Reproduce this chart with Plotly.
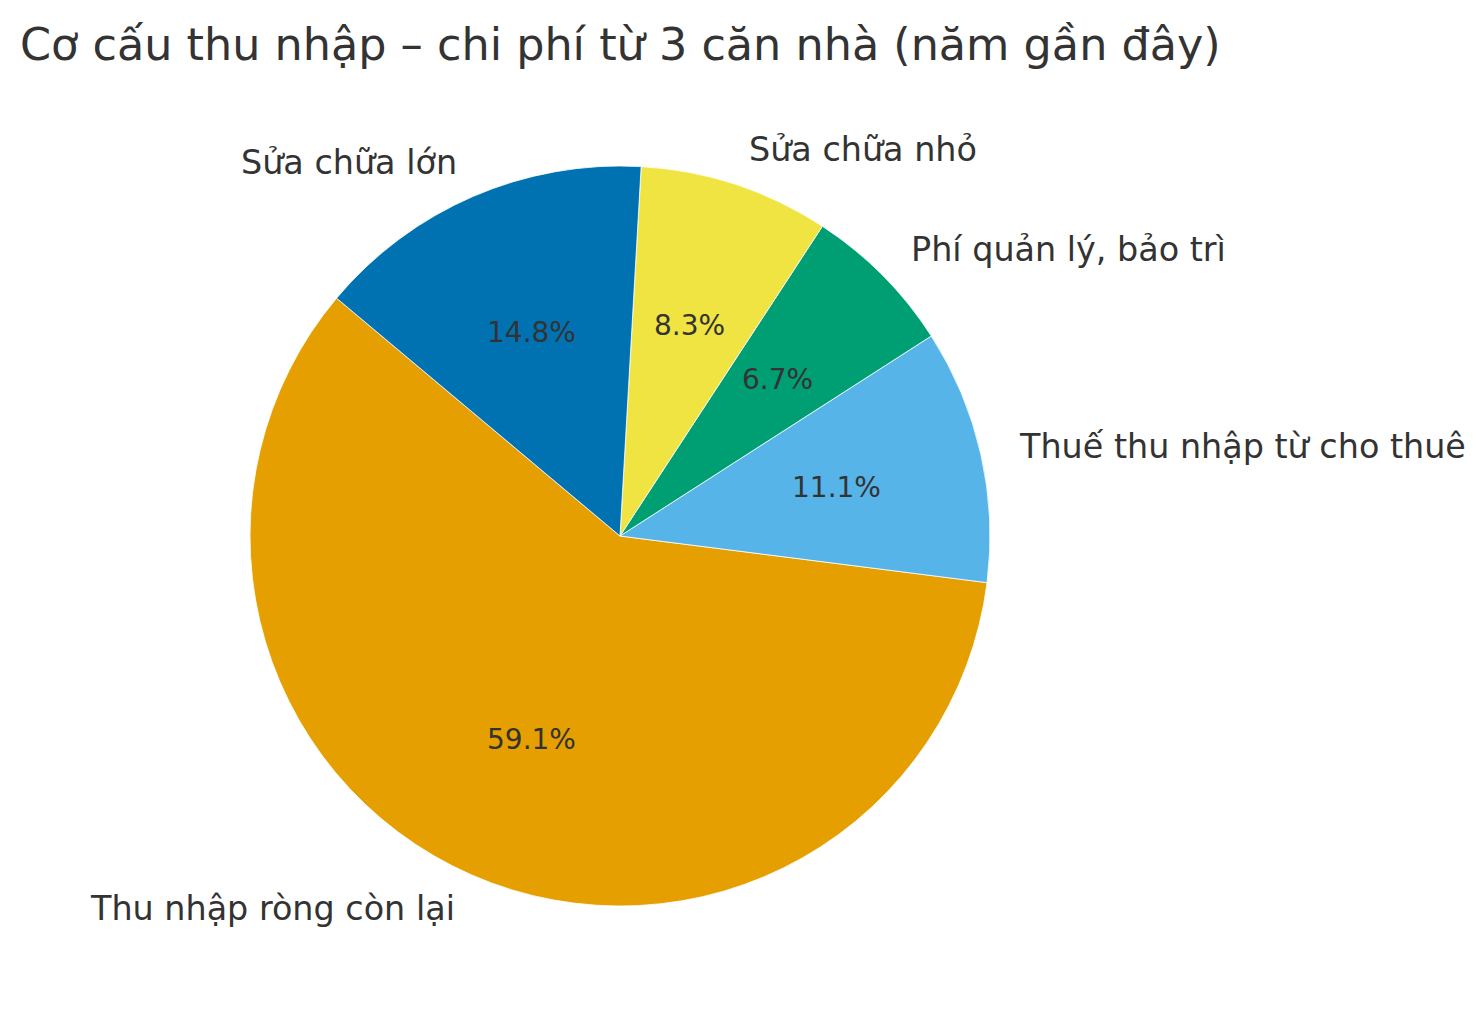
import math
import plotly.graph_objects as go

# data (percent of gross rent), in drawing order (counterclockwise from 140 deg)
labels = ["Thu nhập ròng còn lại", "Thuế thu nhập từ cho thuê", "Phí quản lý, bảo trì",
          "Sửa chữa nhỏ", "Sửa chữa lớn"]
values = [59.1, 11.1, 6.7, 8.3, 14.8]
colors = ["#E69F00", "#56B4E9", "#009E73", "#F0E442", "#0072B2"]

start_angle = 140
text_color = "#333333"
font_name = "DejaVu Sans"

total = sum(values)
# plotly (counterclockwise) puts the first slice clockwise from `rotation`,
# so rotate to where the first slice ends
first_end = start_angle + values[0] / total * 360
rotation = (90 - first_end) % 360

fig = go.Figure()

fig.add_trace(go.Pie(labels=labels,
                     values=values,
                     sort=False,
                     direction="counterclockwise",
                     rotation=rotation,
                     marker=dict(colors=colors, line=dict(color="white", width=0.8)),
                     textinfo="none",
                     hoverinfo="label+percent",
                     showlegend=False,
                     domain=dict(x=[0, 1], y=[0, 1])))

# labels outside (1.1 r) and percentages inside (0.6 r)
annotations = []
theta = start_angle
for lab, v in zip(labels, values):
    span = v / total * 360
    mid = math.radians(theta + span / 2)
    theta += span
    cx, sy = math.cos(mid), math.sin(mid)
    annotations.append(dict(x=0.5 + 0.55 * cx, y=0.5 + 0.55 * sy,
                            xref="paper", yref="paper",
                            text=lab, showarrow=False,
                            xanchor="left" if cx > 0 else "right",
                            yanchor="middle",
                            font=dict(size=33.4, color=text_color, family=font_name)))
    annotations.append(dict(x=0.5 + 0.3 * cx, y=0.5 + 0.3 * sy,
                            xref="paper", yref="paper",
                            text="%.1f%%" % (v / total * 100), showarrow=False,
                            xanchor="center", yanchor="middle",
                            font=dict(size=28, color=text_color, family=font_name)))

fig.update_layout(
    width=1481, height=1018,
    margin=dict(l=242, r=499, t=158, b=120),
    paper_bgcolor="white", plot_bgcolor="white",
    font=dict(family=font_name, color=text_color),
    title=dict(text="Cơ cấu thu nhập – chi phí từ 3 căn nhà (năm gần đây)",
               x=12 / 1481, xref="container", xanchor="left",
               y=1 - 36 / 1018, yref="container", yanchor="middle",
               font=dict(size=44.5, color=text_color, family=font_name)),
    annotations=annotations,
)

fig.write_html("out.html")
